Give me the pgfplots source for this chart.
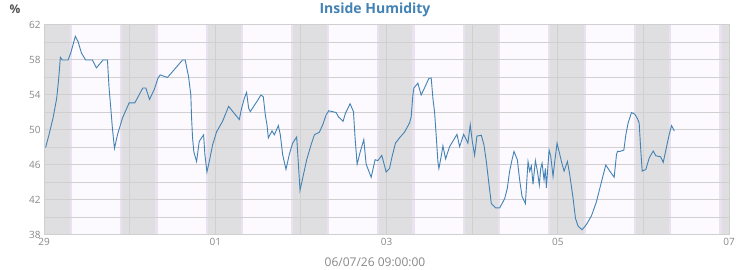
\documentclass[border=0pt]{standalone}
\usepackage{fontspec}
\setmainfont{Open Sans}
\usepackage{pgfplots}
\pgfplotsset{compat=1.18}
\definecolor{daycol}{RGB}{252,249,255}
\definecolor{nightcol}{RGB}{223,223,226}
\definecolor{edgecol}{RGB}{234,226,240}
\definecolor{gridcol}{RGB}{208,208,208}
\definecolor{linecol}{HTML}{4282B4}
\definecolor{labcol}{HTML}{888888}
\definecolor{unitcol}{HTML}{555555}
\begin{document}
\begin{tikzpicture}
\begin{axis}[set layers, at={(0pt,0pt)}, anchor=south west, scale only axis,
  width=685pt, height=210pt, xmin=0, xmax=8, ymin=38, ymax=62,
  xtick={0,2,4,6,8}, xticklabels={29,01,03,05,07}, minor xtick={1,3,5,7},
  ytick={38,42,...,62}, minor ytick={40,44,...,60},
  grid=both, major grid style={draw=gridcol, line width=1pt}, minor grid style={draw=gridcol, line width=1pt},
  axis line style={gridcol, line width=1pt}, major tick length=0pt, minor tick length=0pt,
  ticklabel style={font=\fontsize{10}{12}\selectfont, text=labcol},
  /pgf/number format/assume math mode=true]
\begin{pgfonlayer}{axis background}
\fill[daycol] (axis cs:0,38) rectangle (axis cs:8,62);
% twilight edges
\fill[edgecol] (axis cs:0.302,38) rectangle (axis cs:0.327,62);
\fill[edgecol] (axis cs:0.888,38) rectangle (axis cs:1.327,62);
\fill[edgecol] (axis cs:1.888,38) rectangle (axis cs:2.327,62);
\fill[edgecol] (axis cs:2.888,38) rectangle (axis cs:3.327,62);
\fill[edgecol] (axis cs:3.888,38) rectangle (axis cs:4.327,62);
\fill[edgecol] (axis cs:4.888,38) rectangle (axis cs:5.327,62);
\fill[edgecol] (axis cs:5.888,38) rectangle (axis cs:6.327,62);
\fill[edgecol] (axis cs:6.888,38) rectangle (axis cs:7.327,62);
\fill[edgecol] (axis cs:7.888,38) rectangle (axis cs:8,62);
% nights
\fill[nightcol] (axis cs:0,38) rectangle (axis cs:0.302,62);
\fill[nightcol] (axis cs:0.913,38) rectangle (axis cs:1.302,62);
\fill[nightcol] (axis cs:1.913,38) rectangle (axis cs:2.302,62);
\fill[nightcol] (axis cs:2.913,38) rectangle (axis cs:3.302,62);
\fill[nightcol] (axis cs:3.913,38) rectangle (axis cs:4.302,62);
\fill[nightcol] (axis cs:4.913,38) rectangle (axis cs:5.302,62);
\fill[nightcol] (axis cs:5.913,38) rectangle (axis cs:6.302,62);
\fill[nightcol] (axis cs:6.913,38) rectangle (axis cs:7.302,62);
\fill[nightcol] (axis cs:7.913,38) rectangle (axis cs:8,62);
\end{pgfonlayer}
\addplot[linecol, line width=0.9pt] coordinates {
(0.019,48.0) (0.058,49.45) (0.105,51.35) (0.148,53.6) (0.172,55.9) (0.191,58.3)
(0.214,58.0) (0.281,58.0) (0.312,58.8) (0.366,60.7) (0.398,60.1) (0.437,58.8)
(0.487,58.0) (0.565,58.0) (0.612,57.1) (0.690,58.0) (0.741,58.0) (0.760,54.8)
(0.780,52.5) (0.799,50.2) (0.823,47.9) (0.858,49.45) (0.916,51.35) (0.994,53.1)
(1.060,53.1) (1.099,53.8) (1.154,54.8) (1.189,54.8) (1.232,53.5) (1.287,54.6)
(1.330,55.9) (1.357,56.3) (1.442,56.0) (1.618,58.0) (1.649,58.0) (1.688,56.1)
(1.715,54.0) (1.723,51.5) (1.735,49.1) (1.750,47.5) (1.782,46.4) (1.813,48.7)
(1.864,49.45) (1.879,47.2) (1.903,45.2) (1.930,46.4) (1.969,48.3) (2.016,49.8)
(2.086,51.0) (2.156,52.7) (2.222,51.9) (2.281,51.2) (2.308,52.5) (2.339,53.6)
(2.366,54.3) (2.390,52.5) (2.409,52.1) (2.476,53.1) (2.534,54.0) (2.561,53.8)
(2.585,51.7) (2.604,50.6) (2.620,49.1) (2.663,49.9) (2.690,49.45) (2.737,50.5)
(2.760,49.45) (2.787,47.2) (2.826,45.5) (2.865,47.2) (2.904,48.5) (2.951,49.2)
(2.971,46.1) (2.990,43.1) (3.021,44.5) (3.068,46.6) (3.119,48.3) (3.158,49.45)
(3.216,49.75) (3.255,50.6) (3.294,51.7) (3.325,52.2) (3.411,52.0) (3.439,51.5)
(3.493,51.0) (3.520,51.9) (3.575,53.0) (3.614,52.1) (3.633,49.1) (3.657,46.1)
(3.696,47.6) (3.735,48.9) (3.762,46.1) (3.821,44.6) (3.867,46.6) (3.899,46.5)
(3.945,47.1) (3.996,45.2) (4.035,45.6) (4.066,47.0) (4.105,48.5) (4.152,49.1)
(4.210,49.75) (4.269,50.8) (4.288,51.5) (4.308,54.0) (4.320,54.8) (4.366,55.35)
(4.405,54.0) (4.444,54.8) (4.495,55.9) (4.522,55.95) (4.542,53.6) (4.561,52.1)
(4.581,49.3) (4.600,46.4) (4.612,45.6) (4.639,47.0) (4.659,48.2) (4.690,46.7)
(4.737,48.1) (4.823,49.5) (4.854,48.1) (4.901,49.5) (4.951,48.5) (4.978,50.6)
(5.002,48.7) (5.029,47.1) (5.056,49.3) (5.107,49.4) (5.138,48.3) (5.166,46.4)
(5.193,44.1) (5.224,41.6) (5.275,41.1) (5.322,41.1) (5.380,42.15) (5.411,43.35)
(5.438,45.3) (5.466,46.6) (5.489,47.55) (5.528,46.6) (5.555,44.3) (5.583,42.4)
(5.622,41.6) (5.653,46.4) (5.672,45.3) (5.692,45.9) (5.711,43.8) (5.739,46.5)
(5.762,45.3) (5.785,43.7) (5.801,45.6) (5.817,46.2) (5.840,44.3) (5.856,45.6)
(5.867,43.4) (5.899,47.7) (5.918,47.0) (5.945,44.7) (5.965,46.4) (5.992,48.5)
(6.012,47.7) (6.043,46.4) (6.074,45.3) (6.113,46.4) (6.140,44.9) (6.179,42.2)
(6.207,39.9) (6.238,39.0) (6.284,38.6) (6.335,39.2) (6.394,40.2) (6.452,41.8)
(6.511,44.1) (6.561,46.0) (6.608,45.3) (6.659,44.6) (6.686,47.2) (6.698,47.55)
(6.725,47.55) (6.772,47.7) (6.795,49.45) (6.822,50.8) (6.861,52.0) (6.900,51.8)
(6.928,51.35) (6.951,50.8) (6.967,48.1) (6.986,45.3) (7.029,45.5) (7.068,46.8)
(7.115,47.6) (7.146,47.05) (7.201,46.95) (7.232,46.3) (7.271,48.1) (7.302,49.5)
(7.329,50.5) (7.361,49.9)
};
\end{axis}
\node[font=\fontsize{14}{16}\selectfont\bfseries, text=linecol] at (331pt,225pt) {Inside Humidity};
\node[font=\fontsize{12}{14}\selectfont\bfseries, text=unitcol] at (-29pt,226pt) {\%};
\node[font=\fontsize{12}{14}\selectfont, text=labcol] at (331pt,-27pt) {06/07/26 09:00:00};
\pgfresetboundingbox
\path[use as bounding box] (-44pt,-35pt) rectangle (706pt,235pt);
\end{tikzpicture}
\end{document}
